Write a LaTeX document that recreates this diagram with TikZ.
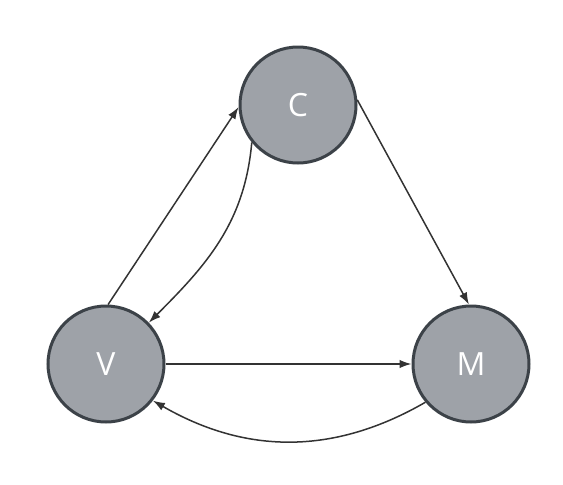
\documentclass[tikz,border=0pt]{standalone}
\usepackage{fontspec}
\setmainfont{Open Sans}
\usetikzlibrary{arrows.meta}
\definecolor{nodefill}{HTML}{9EA2A8}
\definecolor{nodeline}{HTML}{3C4248}
\definecolor{edgeline}{HTML}{333333}

\begin{document}
\begin{tikzpicture}[x=1pt,y=-1pt,
  state/.style={circle,draw=nodeline,fill=nodefill,line width=3pt,minimum size=116pt,
    inner sep=0pt,text=white,font=\fontsize{32}{38}\selectfont},
  edge/.style={draw=edgeline,line width=1.5pt,-{Latex[length=12pt,width=8.5pt]}}]
  \useasboundingbox (0,0) rectangle (563,485);
  \node[state] (c) at (298,105) {C};
  \node[state] (v) at (106,364) {V};
  \node[state] (m) at (471,364) {M};
  \draw[edge] (v.88) -- (c.182);
  \draw[edge] (c.219) to[out=-95,in=45] (v.44);
  \draw[edge] (c.5) -- (m.92);
  \draw[edge] (v.east) -- (m.west);
  \draw[edge] (m.220) to[out=210,in=-30] (v.-38);
\end{tikzpicture}
\end{document}
